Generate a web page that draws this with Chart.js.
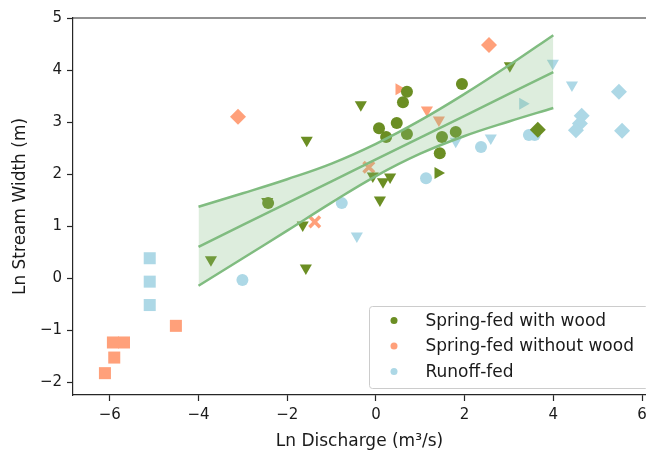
<!DOCTYPE html>
<html>
<head>
<meta charset="utf-8">
<script src="https://cdn.jsdelivr.net/npm/chart.js@4.4.0/dist/chart.umd.min.js"></script>
<style>
  html, body { margin: 0; padding: 0; background: #fff; overflow: hidden; }
  #wrap { width: 646px; height: 450px; overflow: hidden; }
</style>
</head>
<body>
<div id="wrap"><canvas id="chart" width="646" height="450"></canvas></div>
<script>
// Spring-fed with wood
const woodX = [-2.43, -2.45, 0.70, 0.61, 0.47, 0.07, 0.23, 0.70, 1.94, 1.49, 1.80, 1.44, -0.34, -1.56, -1.65, -1.58, -3.72, -0.07, 0.16, 0.32, 0.09, 3.02, 1.40, 3.65]
const woodY = [1.44, 1.47, 3.58, 3.38, 2.98, 2.88, 2.71, 2.77, 3.73, 2.71, 2.81, 2.40, 3.33, 2.65, 1.02, 0.19, 0.35, 1.96, 1.85, 1.94, 1.50, 4.08, 2.02, 2.85]
const woodShape = ["c", "v", "c", "c", "c", "c", "c", "c", "c", "c", "c", "c", "v", "v", "v", "v", "v", "v", "v", "v", "v", "v", ">", "D"]

// Spring-fed without wood
const noWoodX = [-3.11, 2.55, 0.52, 1.15, 1.42, -1.38, -0.16, -4.51, -5.93, -5.68, -5.90, -6.11]
const noWoodY = [3.10, 4.48, 3.63, 3.23, 3.04, 1.08, 2.13, -0.92, -1.24, -1.24, -1.53, -1.83]
const noWoodShape = ["D", "D", ">", "v", "v", "X", "X", "s", "s", "s", "s", "s"]

// Runoff-fed
const runoffX = [-5.10, -5.10, -5.10, -3.01, -0.77, 1.13, 2.37, 3.45, 3.58, -0.43, 2.59, 3.99, 4.42, 1.80, 3.31, 5.48, 5.55, 4.64, 4.60, 4.51]
const runoffY = [0.38, -0.07, -0.52, -0.04, 1.44, 1.92, 2.52, 2.75, 2.75, 0.81, 2.69, 4.13, 3.71, 2.63, 3.35, 3.58, 2.83, 3.12, 2.97, 2.84]
const runoffShape = ["s", "s", "s", "c", "c", "c", "c", "c", "c", "v", "v", "v", "v", "v", ">", "D", "D", "D", "D", "D"]

// regression line and confidence band
const bandX = [-4, -3, -2, -1, 0, 1, 2, 3, 4]
const bandUpper = [1.37, 1.63, 1.90, 2.20, 2.58, 3.03, 3.54, 4.09, 4.67]
const bandCenter = [0.60, 1.02, 1.44, 1.86, 2.28, 2.70, 3.12, 3.54, 3.96]
const bandLower = [-0.15, 0.38, 0.91, 1.45, 1.96, 2.39, 2.73, 3.01, 3.27]

const xTicks = [-6, -4, -2, 0, 2, 4, 6]
const yTicks = [-2, -1, 0, 1, 2, 3, 4, 5]

const groups = [
  { label: "Spring-fed with wood", color: "#6b8e23" },
  { label: "Spring-fed without wood", color: "#ffa07a" },
  { label: "Runoff-fed", color: "#add8e6" },
]

const markerStyle = {
  c: { style: "circle", rot: 0, r: 6 },
  v: { style: "triangle", rot: 180, r: 7 },
  ">": { style: "triangle", rot: 90, r: 7 },
  D: { style: "rectRot", rot: 0, r: 8 },
  s: { style: "rect", rot: 0, r: 8.5 },
  X: { style: "crossRot", rot: 0, r: 7.5 },
}

const font = "'DejaVu Sans', sans-serif"
const lineColor = "rgb(128, 188, 128)"
const bandFill = "rgba(128, 188, 128, 0.27)"
const axisColor = "#262626"
// the axes run a little past the right edge of the picture
const hiddenRight = 8.5

function toPoints(xs, ys) {
  return xs.map((x, i) => ({ x: x, y: ys[i] }))
}

function makeScatter(group, xs, ys, shapes) {
  return {
    label: group.label,
    data: toPoints(xs, ys),
    showLine: false,
    pointStyle: shapes.map((s) => markerStyle[s].style),
    pointRotation: shapes.map((s) => markerStyle[s].rot),
    pointRadius: shapes.map((s) => markerStyle[s].r),
    pointBackgroundColor: group.color,
    pointBorderColor: group.color,
    pointBorderWidth: shapes.map((s) => (s === "X" ? 3.5 : 0)),
  }
}

function makeLine(ys, extra) {
  return Object.assign(
    {
      data: toPoints(bandX, ys),
      showLine: true,
      borderColor: lineColor,
      borderWidth: 2.5,
      pointRadius: 0,
      tension: 0.4,
      fill: false,
    },
    extra
  )
}

// top spine
const topSpine = {
  id: "topSpine",
  afterDraw(chart) {
    const ctx = chart.ctx
    const a = chart.chartArea
    ctx.save()
    ctx.strokeStyle = axisColor
    ctx.lineWidth = 1.2
    ctx.beginPath()
    ctx.moveTo(a.left, a.top)
    ctx.lineTo(a.right, a.top)
    ctx.stroke()
    ctx.restore()
  },
}

const legendBox = {
  id: "legendBox",
  afterDraw(chart) {
    const ctx = chart.ctx
    const a = chart.chartArea
    const w = 279
    const h = 82
    const x = a.right + hiddenRight - 7 - w
    const y = a.bottom - 7 - h
    ctx.save()
    ctx.fillStyle = "rgba(255,255,255,0.8)"
    ctx.strokeStyle = "#cccccc"
    ctx.lineWidth = 1
    ctx.beginPath()
    ctx.roundRect(Math.round(x) + 0.5, Math.round(y) + 0.5, w, h, 3)
    ctx.fill()
    ctx.stroke()
    ctx.font = "17px " + font
    ctx.textBaseline = "middle"
    groups.forEach((g, i) => {
      const cy = y + 14.5 + i * 25.5
      ctx.fillStyle = g.color
      ctx.beginPath()
      ctx.arc(x + 25.5, cy, 3.5, 0, Math.PI * 2)
      ctx.fill()
      ctx.fillStyle = "#1a1a1a"
      ctx.fillText(g.label, x + 57, cy + 1)
    })
    ctx.restore()
  },
}

new Chart(document.getElementById("chart"), {
  type: "scatter",
  data: {
    datasets: [
      makeScatter(groups[0], woodX, woodY, woodShape),
      makeScatter(groups[1], noWoodX, noWoodY, noWoodShape),
      makeScatter(groups[2], runoffX, runoffY, runoffShape),
      makeLine(bandUpper, { fill: "+1", backgroundColor: bandFill, order: -1 }),
      makeLine(bandLower, { order: -2 }),
      makeLine(bandCenter, { tension: 0, order: -2 }),
    ],
  },
  options: {
    responsive: false,
    animation: false,
    events: [],
    layout: { autoPadding: false, padding: { left: 0, top: 18, right: 0, bottom: 0 } },
    plugins: {
      legend: { display: false },
      tooltip: { enabled: false },
    },
    scales: {
      x: {
        type: "linear",
        min: -6.83,
        max: 6.09,
        afterFit: (scale) => {
          scale.height = 55
          scale.paddingLeft = 0
          scale.paddingRight = 0
        },
        afterBuildTicks: (scale) => { scale.ticks = xTicks.map((v) => ({ value: v })) },
        grid: { drawOnChartArea: false, drawTicks: true, tickLength: 6, color: axisColor, tickWidth: 1.2 },
        border: { color: axisColor, width: 1.2 },
        ticks: { color: "#1a1a1a", padding: 5, font: { family: font, size: 15 }, callback: (v) => (v < 0 ? "\u2212" + Math.abs(v) : String(v)) },
        title: { display: true, text: "Ln Discharge (m\u00b3/s)", color: "#1a1a1a", font: { family: font, size: 17 }, padding: { top: 0, bottom: -2 } },
      },
      y: {
        type: "linear",
        min: -2.25,
        max: 5,
        afterFit: (scale) => { scale.width = 73 },
        afterBuildTicks: (scale) => { scale.ticks = yTicks.map((v) => ({ value: v })) },
        grid: { drawOnChartArea: false, drawTicks: true, tickLength: 6, color: axisColor, tickWidth: 1.2 },
        border: { color: axisColor, width: 1.2 },
        ticks: { color: "#1a1a1a", padding: 5, font: { family: font, size: 15 }, callback: (v) => (v < 0 ? "\u2212" + Math.abs(v) : String(v)) },
        title: { display: true, text: "Ln Stream Width (m)", color: "#1a1a1a", font: { family: font, size: 17 }, padding: { top: 10, bottom: 0 } },
      },
    },
  },
  plugins: [topSpine, legendBox],
})
</script>
</body>
</html>
